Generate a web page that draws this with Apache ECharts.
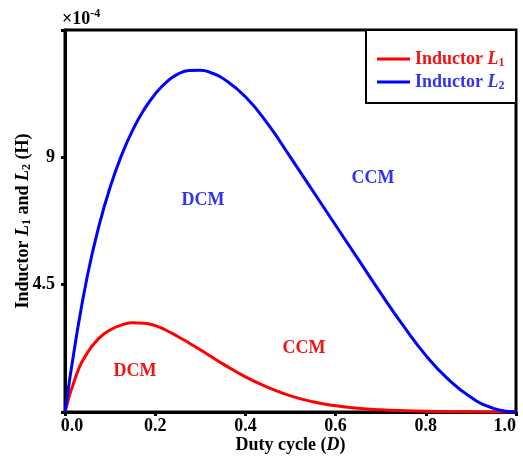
<!DOCTYPE html>
<html>
<head>
<meta charset="utf-8">
<script src="https://cdn.jsdelivr.net/npm/echarts@6/dist/echarts.min.js"></script>
<style>html,body{margin:0;padding:0;background:#fff;}#c{width:523px;height:460px;}</style>
</head>
<body>
<div id="c"></div>
<script>
const dutyCycle  = [0, 0.025, 0.05, 0.075, 0.1, 0.125, 0.15, 0.175, 0.2, 0.225, 0.25, 0.275, 0.3, 0.325, 0.35, 0.4, 0.45, 0.5, 0.55, 0.6, 0.65, 0.7, 0.75, 0.8, 0.85, 0.9, 0.95, 1.0];
const inductorL1 = [0, 1.3, 2.1, 2.6, 2.9, 3.07, 3.15, 3.14, 3.05, 2.88, 2.67, 2.44, 2.2, 1.95, 1.7, 1.24, 0.87, 0.57, 0.36, 0.22, 0.13, 0.08, 0.05, 0.03, 0.015, 0.007, 0.002, 0];
const inductorL2 = [0, 2.64, 4.84, 6.56, 7.94, 9.06, 9.96, 10.68, 11.24, 11.66, 11.94, 12.07, 12.08, 11.98, 11.79, 11.14, 10.17, 9.0, 7.8, 6.6, 5.4, 4.2, 3.05, 2.0, 1.15, 0.52, 0.13, 0];
const xTicks = [0, 0.2, 0.4, 0.6, 0.8, 1.0];
const yTickLabels = ['4.5', '9'];
const seriesNames = ['Inductor L1', 'Inductor L2'];

const FONT = '"Liberation Serif", "Times New Roman", serif';
const RED = '#ff0000', BLUE = '#0000ff';
const RED_T = '#f01414', BLUE_T = '#3333ee';

const chart = echarts.init(document.getElementById('c'), null, {renderer: 'canvas'});
const pairs = (ys) => dutyCycle.map((d, i) => [d, ys[i]]);
const subRich = (color) => ({
  b: {fontFamily: FONT, fontWeight: 'bold', fontSize: 18, color: color},
  i: {fontFamily: FONT, fontWeight: 'bold', fontStyle: 'italic', fontSize: 18, color: color},
  s: {fontFamily: FONT, fontWeight: 'bold', fontSize: 12, color: color, padding: [8, 0, 0, 0]}
});

chart.setOption({
  animation: false,
  backgroundColor: '#fff',
  grid: {left: 65, right: 7, top: 30, bottom: 48, show: true, borderColor: '#000', borderWidth: 3, backgroundColor: 'transparent', containLabel: false, outerBoundsMode: 'none'},
  legend: {
    z: 50,
    left: 372, top: 45, orient: 'vertical', itemGap: 4,
    icon: 'rect', itemWidth: 33, itemHeight: 3,
    formatter: (n) => n === seriesNames[0] ? '{b|Inductor }{i|L}{s|1}' : '{b|Inductor }{i|L}{s|2}',
    data: [
      {name: seriesNames[0], textStyle: {rich: subRich(RED_T)}},
      {name: seriesNames[1], textStyle: {rich: subRich(BLUE_T)}}
    ]
  },
  xAxis: {
    type: 'value', min: 0, max: 1, interval: 0.2,
    axisLine: {show: true, lineStyle: {color: '#000', width: 3}},
    axisTick: {show: true, length: 4, lineStyle: {color: '#000', width: 3}},
    splitLine: {show: false},
    axisLabel: {
      margin: 5, fontFamily: FONT, fontWeight: 'bold', fontSize: 18, color: '#000',
      alignMaxLabel: 'right',
      formatter: (v) => {
        if (!xTicks.some(t => Math.abs(t - v) < 1e-9)) return '';
        return v === 0 ? '{z|' + v.toFixed(1) + '}' : v.toFixed(1);
      },
      rich: {z: {fontFamily: FONT, fontWeight: 'bold', fontSize: 18, color: '#000', padding: [0, 0, 0, 14]}}
    },
    name: '{b|Duty cycle (}{i|D}{b|)}', nameLocation: 'middle', nameGap: 24, nameMoveOverlap: false,
    nameTextStyle: {rich: subRich('#000')}
  },
  yAxis: {
    type: 'value', min: 0, max: 13.5, interval: 4.5,
    axisLine: {show: true, lineStyle: {color: '#000', width: 3}},
    axisTick: {show: true, length: 4, lineStyle: {color: '#000', width: 3}},
    splitLine: {show: false},
    axisLabel: {
      margin: 10, fontFamily: FONT, fontWeight: 'bold', fontSize: 18, color: '#000',
      formatter: (v) => { const s = String(v); return yTickLabels.indexOf(s) >= 0 ? s : ''; }
    },
    name: '{b|Inductor }{i|L}{s|1}{b| and }{i|L}{s|2}{b| (H)}', nameLocation: 'middle', nameGap: 32, nameRotate: 90, nameMoveOverlap: false,
    nameTextStyle: {rich: subRich('#000')}
  },
  series: [
    {name: seriesNames[0], type: 'line', data: pairs(inductorL1), smooth: 0.5, showSymbol: false, lineStyle: {color: RED, width: 3}, itemStyle: {color: RED}, z: 3},
    {name: seriesNames[1], type: 'line', data: pairs(inductorL2), smooth: 0.5, showSymbol: false, lineStyle: {color: BLUE, width: 3}, itemStyle: {color: BLUE}, z: 3}
  ],
  graphic: [
    {type: 'rect', z: 1, shape: {x: 366, y: 30, width: 150, height: 73}, style: {fill: '#fff', stroke: '#000', lineWidth: 2}},
    {type: 'text', left: 62, top: 8, z: 10, style: {text: '{b|×10}{p|-4}', rich: {
      b: {fontFamily: FONT, fontWeight: 'bold', fontSize: 18, color: '#000'},
      p: {fontFamily: FONT, fontWeight: 'bold', fontSize: 12, color: '#000', padding: [0, 0, 10, 0]}
    }}},
    {type: 'text', x: 203, y: 200, z: 10, style: {text: 'DCM', fill: BLUE_T, font: 'bold 18px ' + FONT, align: 'center', verticalAlign: 'middle'}},
    {type: 'text', x: 373, y: 178, z: 10, style: {text: 'CCM', fill: BLUE_T, font: 'bold 18px ' + FONT, align: 'center', verticalAlign: 'middle'}},
    {type: 'text', x: 135, y: 371, z: 10, style: {text: 'DCM', fill: RED_T, font: 'bold 18px ' + FONT, align: 'center', verticalAlign: 'middle'}},
    {type: 'text', x: 304, y: 348, z: 10, style: {text: 'CCM', fill: RED_T, font: 'bold 18px ' + FONT, align: 'center', verticalAlign: 'middle'}}
  ]
});
</script>
</body>
</html>
